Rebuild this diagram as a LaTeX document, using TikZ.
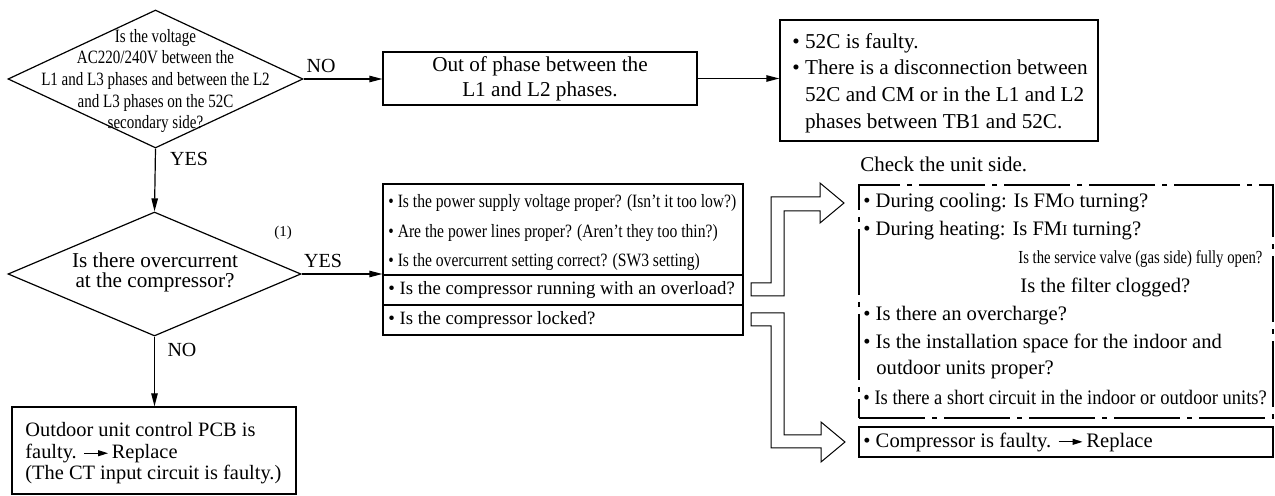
\documentclass[tikz,border=0pt]{standalone}
\usepackage{fontspec}
\setmainfont{Liberation Serif}
\newfontfamily\condfont{Liberation Serif}[FakeStretch=0.8]
\newfontfamily\rowfont{Liberation Serif}[FakeStretch=0.83]
\newfontfamily\narrowfont{Liberation Serif}[FakeStretch=0.9]
\usetikzlibrary{positioning,arrows.meta,shapes.geometric}
\newcommand{\smallcap}[1]{{\fontsize{7.6}{9}\selectfont #1}}
\newcommand{\replarrow}{\tikz[baseline=-0.55ex]\draw[line width=0.45pt,-{Triangle[length=5pt,width=3pt]}] (0pt,0pt) -- (12pt,0pt);}
\tikzset{
  flowbox/.style={draw, line width=0.6pt, inner sep=0pt},
  decision/.style={draw, diamond, line width=0.6pt, inner sep=0pt},
  flowarrow/.style={line width=0.6pt, -{Triangle[length=6.5pt,width=3.2pt]}},
  hollowarrow/.style={draw, line width=0.5pt, line join=miter},
  unitbox/.style={draw, line width=0.6pt, inner sep=0pt, dash pattern=on 33pt off 3.5pt on 2.5pt off 3.5pt},
  lbl/.style={inner sep=0pt, font=\fontsize{10}{12}\selectfont},
  txt/.style={inner sep=0pt, anchor=west, font=\fontsize{10.3}{12}\selectfont},
}
\begin{document}
\begin{tikzpicture}[x=0.5pt, y=-0.5pt]
\useasboundingbox (0,0) rectangle (1275,496);
% voltage check
\node[decision, minimum width=147.5pt, minimum height=69pt] (volt) at (155.5,79) {};
\node[inner sep=0pt, align=center, font=\condfont\fontsize{9.4}{10.85}\selectfont] (volttxt) at (155.5,81) {Is the voltage\\AC220/240V between the\\L1 and L3 phases and between the L2\\and L3 phases on the 52C\\secondary side?};
\node[flowbox, minimum width=157pt, minimum height=26.5pt, align=center, font=\fontsize{10.6}{12.5}\selectfont] (phase) at (540,78.5) {Out of phase between the\\L1 and L2 phases.};
\node[flowbox, minimum width=159pt, minimum height=60.5pt] (fault) at (939,80.5) {};
\node[txt, align=left, font=\fontsize{10.6}{13.3}\selectfont] (faulttxt) at (792,83) {• 52C is faulty.\\• There is a disconnection between\\\phantom{• }52C and CM or in the L1 and L2\\\phantom{• }phases between TB1 and 52C.};
\draw[flowarrow] (volt.east) -- (volt.east -| phase.west);
\draw[flowarrow] (phase.east) -- (phase.east -| fault.west);
\node[lbl] (no1) at (321,66) {NO};
\node[lbl] (yes1) at (189,159) {YES};
% overcurrent check
\node[decision, minimum width=146.5pt, minimum height=62pt] (ocur) at (154.5,274) {};
\node[inner sep=0pt, align=center, font=\fontsize{10.6}{9.8}\selectfont] (ocurtxt) at (155,272.5) {Is there overcurrent\\at the compressor?};
\node[inner sep=0pt, font=\fontsize{7.5}{9}\selectfont] (note1) at (283,233) {(1)};
\node[lbl] (yes2) at (323,261) {YES};
\node[lbl] (no2) at (182,350) {NO};
\draw[flowarrow] (volt.south) -- (ocur.north);
% causes on the outdoor side
\node[flowbox, minimum width=180pt, minimum height=75.5pt] (checks) at (563,259.5) {};
\draw[line width=0.6pt] (checks.west |- 0,275) -- (checks.east |- 0,275);
\draw[line width=0.6pt] (checks.west |- 0,305) -- (checks.east |- 0,305);
\foreach \row [count=\i] in {{Is the power supply voltage proper? (Isn’t it too low?)},{Are the power lines proper? (Aren’t they too thin?)},{Is the overcurrent setting correct? (SW3 setting)}}{
  \node[txt, font=\rowfont\fontsize{9.4}{11}\selectfont] (row\i) at (388,174+29.5*\i) {• \row};
}
\node[txt, font=\fontsize{9.4}{11}\selectfont] (row4) at (388,290) {• Is the compressor running with an overload?};
\node[txt, font=\fontsize{9.4}{11}\selectfont] (row5) at (388,320) {• Is the compressor locked?};
\draw[flowarrow] (ocur.east) -- (ocur.east -| checks.west);
% PCB
\node[flowbox, minimum width=142pt, minimum height=43.5pt] (pcb) at (154,450.5) {};
\node[txt, align=left, font=\fontsize{10.2}{10.75}\selectfont] (pcbtxt) at (25,453.5) {Outdoor unit control PCB is\\faulty. \replarrow\,Replace\\(The CT input circuit is faulty.)};
\draw[flowarrow] (ocur.south) -- (ocur.south |- pcb.north);
% unit side
\node[txt, font=\fontsize{10.5}{12}\selectfont] (unitlbl) at (860,164) {Check the unit side.};
\node[unitbox, minimum width=207pt, minimum height=116.5pt] (unitside) at (1066,301.5) {};
\node[txt] (cool) at (863,203) {• During cooling: Is FM\smallcap{O} turning?};
\node[txt] (heat) at (863,231) {• During heating: Is FM\smallcap{I} turning?};
\node[txt, font=\condfont\fontsize{9.2}{10}\selectfont] (valve) at (1018,259) {Is the service valve (gas side) fully open?};
\node[txt] (filter) at (1020,287) {Is the filter clogged?};
\node[txt] (charge) at (863,316) {• Is there an overcharge?};
\node[txt] (space) at (863,343) {• Is the installation space for the indoor and};
\node[txt] (space2) at (876,370) {outdoor units proper?};
\node[txt, font=\narrowfont\fontsize{10.3}{12}\selectfont] (short) at (863,398) {• Is there a short circuit in the indoor or outdoor units?};
\node[flowbox, minimum width=207pt, minimum height=15pt] (comp) at (1066,442) {};
\node[txt] (comptxt) at (863,442) {• Compressor is faulty. \replarrow\,Replace};
% hollow arrows
\draw[hollowarrow] (751,283) -- (771,283) -- (771,197) -- (820,197) -- (820,183) -- (844,203) -- (820,223) -- (820,211) -- (784,211) -- (784,296) -- (751,296) -- cycle;
\draw[hollowarrow] (751,313) -- (784,313) -- (784,435) -- (821,435) -- (821,422) -- (845,442) -- (821,462) -- (821,448) -- (771,448) -- (771,326) -- (751,326) -- cycle;
\end{tikzpicture}
\end{document}
